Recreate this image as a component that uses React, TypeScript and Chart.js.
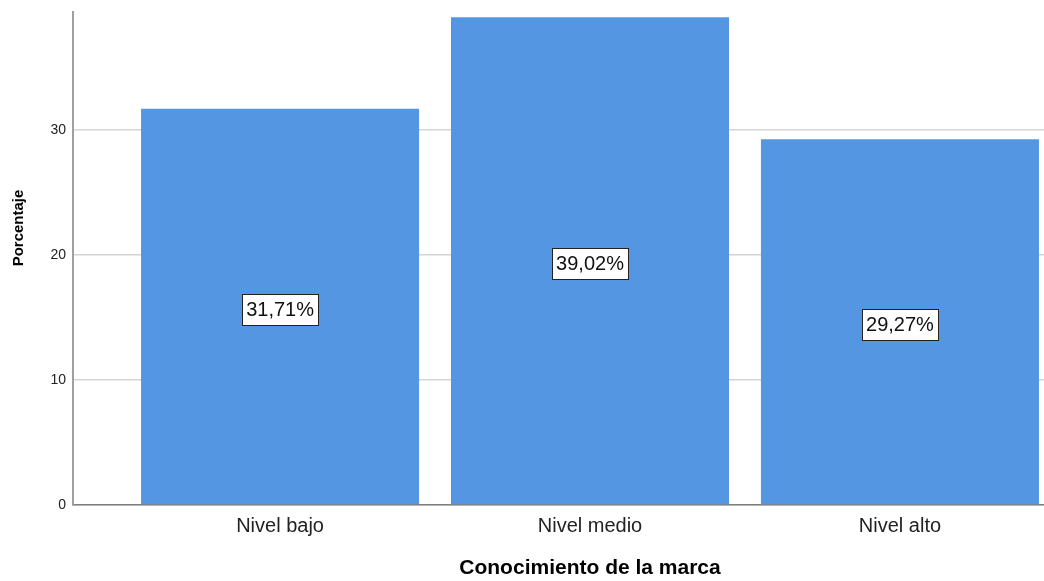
import { useEffect, useRef } from "react";
import { Chart, registerables } from "chart.js";

Chart.register(...registerables);

const categories = ["Nivel bajo", "Nivel medio", "Nivel alto"];
const percentages = [31.71, 39.02, 29.27];
const valueLabels = ["31,71%", "39,02%", "29,27%"];
const yTicks = [0, 10, 20, 30, 40];
const xTitle = "Conocimiento de la marca";
const yTitle = "Porcentaje";

const family = "'Liberation Sans', Arial, sans-serif";

const barLabelPlugin = {
  id: "barLabels",
  afterDatasetsDraw(chart: any) {
    const { ctx } = chart;
    const meta = chart.getDatasetMeta(0);
    ctx.save();
    ctx.font = `20px ${family}`;
    ctx.textAlign = "center";
    ctx.textBaseline = "middle";
    meta.data.forEach((el: any, i: number) => {
      const text = valueLabels[i];
      const cx = el.x;
      const cy = (el.y + el.base) / 2 + 3;
      const w = ctx.measureText(text).width + 8;
      const h = 31;
      const x0 = Math.round(cx - w / 2) + 0.5;
      const y0 = Math.round(cy - h / 2) + 0.5;
      ctx.fillStyle = "#ffffff";
      ctx.fillRect(x0, y0, Math.round(w), h);
      ctx.strokeStyle = "#222222";
      ctx.lineWidth = 1;
      ctx.strokeRect(x0, y0, Math.round(w), h);
      ctx.fillStyle = "#111111";
      ctx.fillText(text, cx, cy + 1);
    });
    ctx.restore();
  },
};

const yTitlePlugin = {
  id: "yTitle",
  afterDraw(chart: any) {
    const { ctx, chartArea } = chart;
    ctx.save();
    ctx.translate(19, chartArea.top + (chartArea.bottom - chartArea.top) * 0.446);
    ctx.rotate(-Math.PI / 2);
    ctx.font = `bold 15px ${family}`;
    ctx.textAlign = "center";
    ctx.textBaseline = "middle";
    ctx.fillStyle = "#000000";
    ctx.fillText(yTitle, 0, 0);
    ctx.restore();
  },
};

export default function App() {
  const ref = useRef<HTMLCanvasElement>(null);

  useEffect(() => {
    const canvas = ref.current!;
    const chart = new Chart(canvas, {
      type: "bar",
      data: {
        datasets: [
          {
            data: percentages.map((v, i) => ({ x: i, y: v })) as any,
            backgroundColor: "#5596E3",
            borderWidth: 0,
            categoryPercentage: 1,
            barPercentage: 0.897,
          },
        ],
      },
      options: {
        responsive: false,
        animation: false,
        devicePixelRatio: 1,
        layout: { padding: { top: 20, left: 0, right: 3, bottom: 0 } },
        plugins: { legend: { display: false }, tooltip: { enabled: false } },
        scales: {
          x: {
            type: "linear",
            offset: false,
            min: -0.668,
            max: 2.668,
            afterBuildTicks: (s: any) => {
              s.ticks = categories.map((_, i) => ({ value: i }));
            },
            ticks: {
              callback: (v: any) => categories[v as number] ?? "",
              font: { family, size: 20 },
              color: "#222222",
              padding: 9,
              autoSkip: false,
              maxRotation: 0,
            },
            grid: { display: false, drawTicks: false, offset: false },
            border: { display: true, color: "#7f7f7f", width: 1.5 },
            title: {
              display: true,
              text: xTitle,
              font: { family, size: 21, weight: "bold", lineHeight: 1.0 },
              color: "#000000",
              padding: { top: 0, bottom: 2 },
            },
            afterFit: (s: any) => {
              s.height = 76;
            },
          } as any,
          y: {
            min: 0,
            max: 40,
            afterBuildTicks: (s: any) => {
              s.ticks = yTicks.map((v) => ({ value: v }));
            },
            ticks: { font: { family, size: 14 }, color: "#222222", padding: 7 },
            grid: { drawTicks: false, color: "#D4D4D4", lineWidth: 1.5 },
            border: { color: "#A0A0A0", width: 2 },
            afterFit: (s: any) => {
              s.width = 73;
            },
          } as any,
        },
      },
      plugins: [barLabelPlugin, yTitlePlugin],
    });
    return () => chart.destroy();
  }, []);

  return (
    <div
      style={{
        position: "absolute",
        left: 0,
        top: 0,
        width: 1044,
        height: 581,
        overflow: "hidden",
        background: "#ffffff",
      }}
    >
      <div
        style={{
          position: "absolute",
          left: 0,
          top: 11,
          width: 1044,
          height: 570,
          overflow: "hidden",
        }}
      >
        <canvas
          ref={ref}
          width={1110}
          height={596}
          style={{ position: "absolute", left: 0, top: -26, width: 1110, height: 596 }}
        />
      </div>
    </div>
  );
}
